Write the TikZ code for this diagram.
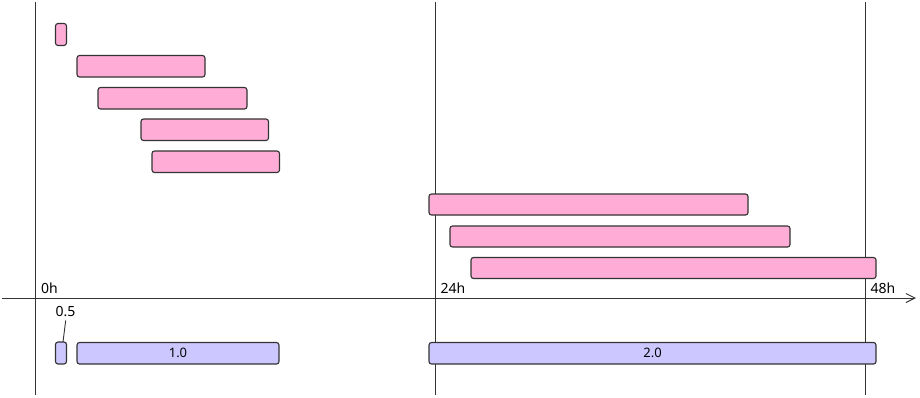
\documentclass[tikz,border=0pt]{standalone}
\usepackage{fontspec}
\setmainfont{Noto Sans}
\usetikzlibrary{arrows.meta}
\definecolor{pinkfill}{HTML}{FFADD6}
\definecolor{lavfill}{HTML}{CCC8FF}
\definecolor{edge}{HTML}{333333}
\tikzset{
  bar/.style={draw=edge, line width=1.1pt, rounded corners=2.5pt, inner sep=0pt, outer sep=0pt, anchor=north west, font=\fontsize{13}{15}\selectfont},
  pinkbar/.style={bar, fill=pinkfill},
  lavbar/.style={bar, fill=lavfill},
  guide/.style={draw=edge, line width=0.9pt},
  lbl/.style={font=\fontsize{14}{16}\selectfont, text=black, inner sep=0pt}
}
\begin{document}
\begin{tikzpicture}[x=1pt,y=-1pt]
\useasboundingbox (0,0) rectangle (920,397);
% guide lines
\coordinate (v0t) at (35,2);   \coordinate (v0b) at (35,395);
\coordinate (v1t) at (435,2);  \coordinate (v1b) at (435,395);
\coordinate (v2t) at (865,2);  \coordinate (v2b) at (865,395);
\coordinate (axl) at (2,298);  \coordinate (axr) at (916,298);
\draw[guide] (v0t) -- (v0b);
\draw[guide] (v1t) -- (v1b);
\draw[guide] (v2t) -- (v2b);
\draw[guide, -{Straight Barb[length=9pt,width=9pt,line width=1pt]}] (axl) -- (axr);
% axis labels
\node[lbl, anchor=base west] (l0) at (41,293) {0h};
\node[lbl, anchor=base west] (l24) at (440.5,293.5) {24h};
\node[lbl, anchor=base west] (l48) at (870.5,293.5) {48h};
% pink bars
\node[pinkbar, minimum width=11pt, minimum height=22pt] (p1) at (55.5,23.5) {};
\node[pinkbar, minimum width=128pt, minimum height=21.5pt] (p2) at (77,55.5) {};
\node[pinkbar, minimum width=149pt, minimum height=21.5pt] (p3) at (98,87.5) {};
\node[pinkbar, minimum width=127.5pt, minimum height=21.5pt] (p4) at (141,119) {};
\node[pinkbar, minimum width=127.5pt, minimum height=21.5pt] (p5) at (152,151) {};
\node[pinkbar, minimum width=319pt, minimum height=21pt] (p6) at (429,194) {};
\node[pinkbar, minimum width=340pt, minimum height=21pt] (p7) at (450,226) {};
\node[pinkbar, minimum width=405pt, minimum height=21pt] (p8) at (471,257.5) {};
% lavender bars
\node[lavbar, minimum width=11pt, minimum height=22pt] (q1) at (55.5,342) {};
\node[lavbar, minimum width=202pt, minimum height=21.5pt] (q2) at (77,342.5) {1.0};
\node[lavbar, minimum width=447pt, minimum height=21.5pt] (q3) at (429,342.5) {2.0};
% 0.5 label with leader
\node[lbl, anchor=base] (l05) at (65.5,316.5) {0.5};
\coordinate (lead) at (65.7,320.5);
\draw[draw=edge, line width=0.9pt] (lead) -- ([xshift=2pt]q1.north);
\end{tikzpicture}
\end{document}
